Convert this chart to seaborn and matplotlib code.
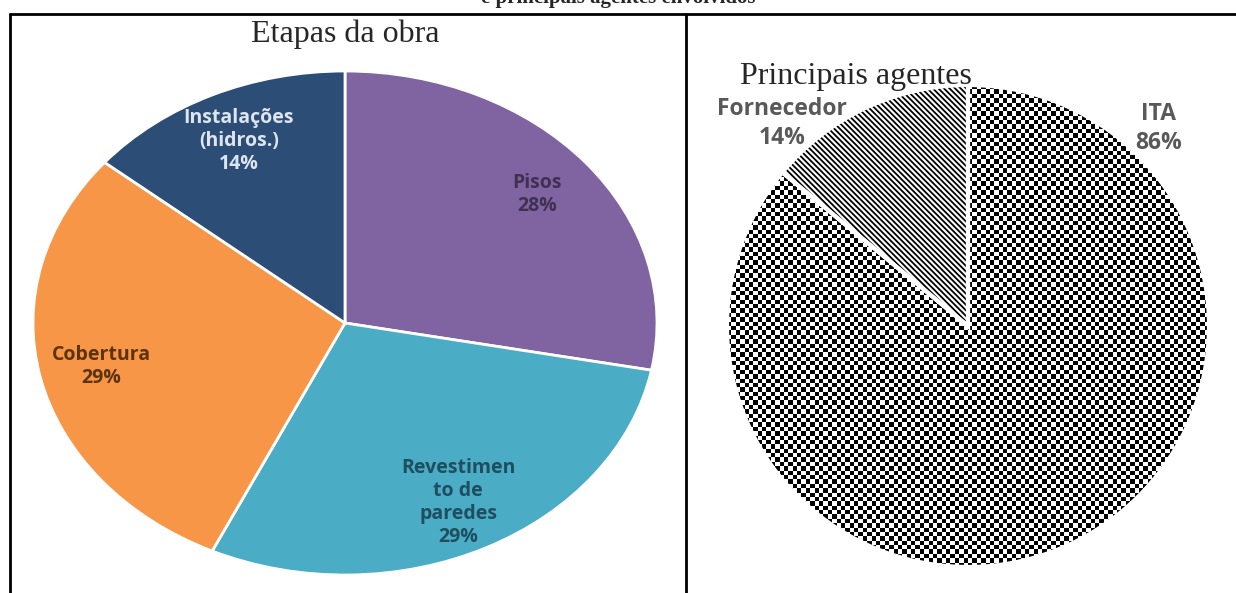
import numpy as np
import matplotlib
matplotlib.use("Agg")
import matplotlib.pyplot as plt
from matplotlib.lines import Line2D
import seaborn as sns

# --- Data ---
ETAPAS = ["Pisos", "Revestimen\nto de\nparedes", "Cobertura", "Instalações\n(hidros.)"]
ETAPAS_PCT = [28, 29, 29, 14]
ETAPAS_COLORS = ["#8064A2", "#4BACC6", "#F79646", "#2C4D75"]
ETAPAS_TEXT = ["#3F3151", "#1F4E5F", "#5C330F", "#DDE5F0"]

AGENTES = ["ITA", "Fornecedor"]
AGENTES_PCT = [86, 14]

TITLE_TOP = "e principais agentes envolvidos"
TITLE_LEFT = "Etapas da obra"
TITLE_RIGHT = "Principais agentes"

# --- Layout (pixels) ---
W, H = 1236, 593
LINE_Y = 14


def fx(x):
    return x / W


def fy(y):
    return 1 - y / H


sns.set_theme(style="white")
plt.rcParams["font.family"] = ["Open Sans", "DejaVu Sans"]
plt.rcParams["hatch.linewidth"] = 1.3

fig = plt.figure(figsize=(W / 100, H / 100), dpi=100)
fig.patch.set_facecolor("white")

# table-like borders
fig.add_artist(Line2D([fx(10), fx(W)], [fy(LINE_Y), fy(LINE_Y)], color="black", lw=2))
fig.add_artist(Line2D([fx(10), fx(10)], [fy(LINE_Y), 0], color="black", lw=2))
fig.add_artist(Line2D([fx(686), fx(686)], [fy(LINE_Y), 0], color="black", lw=2))

fig.text(fx(618), fy(3), TITLE_TOP, ha="center", va="baseline", fontsize=15,
         fontweight="bold", family="Liberation Serif")
fig.text(fx(345), fy(42), TITLE_LEFT, ha="center", va="baseline", fontsize=23,
         family="Liberation Serif")
fig.text(fx(856), fy(84), TITLE_RIGHT, ha="center", va="baseline", fontsize=23,
         family="Liberation Serif")

# --- Left pie: Etapas da obra (elliptical) ---
cx, cy, rx, ry = 345, 323, 312, 252
ax1 = fig.add_axes([fx(cx - rx), fy(cy + ry), 2 * rx / W, 2 * ry / H])
wedges, _ = ax1.pie(ETAPAS_PCT, colors=sns.color_palette(ETAPAS_COLORS),
                    startangle=90, counterclock=False, radius=1,
                    wedgeprops=dict(edgecolor="white", linewidth=2))
ax1.set_aspect("auto")
ax1.set_xlim(-1, 1)
ax1.set_ylim(-1, 1)
ax1.axis("off")

for w, name, pct, tc in zip(wedges, ETAPAS, ETAPAS_PCT, ETAPAS_TEXT):
    mid = np.deg2rad((w.theta1 + w.theta2) / 2)
    r = 0.8
    ax1.text(r * np.cos(mid), r * np.sin(mid), f"{name}\n{pct}%", ha="center",
             va="center", fontsize=14, fontweight="bold", color=tc,
             linespacing=1.2)

# --- Right pie: Principais agentes ---
cx2, cy2, r2 = 968, 326, 241
ax2 = fig.add_axes([fx(cx2 - r2), fy(cy2 + r2), 2 * r2 / W, 2 * r2 / H])
pw, _ = ax2.pie(AGENTES_PCT, colors=["none", "white"], startangle=90,
                counterclock=False, radius=1,
                wedgeprops=dict(edgecolor="black", linewidth=0))
ax2.set_aspect("auto")
ax2.set_xlim(-1, 1)
ax2.set_ylim(-1, 1)
ax2.axis("off")

# checkerboard fill for ITA
n = 110
ii, jj = np.indices((n, n))
checker = ((ii + jj) % 2).astype(float)
im = ax2.imshow(checker, extent=(-1, 1, -1, 1), cmap="gray",
                interpolation="nearest", aspect="auto", zorder=0.5)
im.set_clip_path(pw[0])

# diagonal stripes for Fornecedor
pw[1].set_hatch("\\\\\\\\\\\\")
pw[1].set_zorder(1)

# white separators
ax2.pie(AGENTES_PCT, colors=["none", "none"], startangle=90,
        counterclock=False, radius=1,
        wedgeprops=dict(edgecolor="white", linewidth=3, zorder=2))
ax2.set_aspect("auto")
ax2.set_xlim(-1, 1)
ax2.set_ylim(-1, 1)

label_pos = [(0.79, 0.82), (-0.77, 0.84)]
for (tx, ty), name, pct in zip(label_pos, AGENTES, AGENTES_PCT):
    ax2.text(tx, ty, f"{name}\n{pct}%", ha="center", va="center", fontsize=16.5,
             fontweight="bold", color="#595959", linespacing=1.3)

fig.savefig("out.png", dpi=100, facecolor="white")
